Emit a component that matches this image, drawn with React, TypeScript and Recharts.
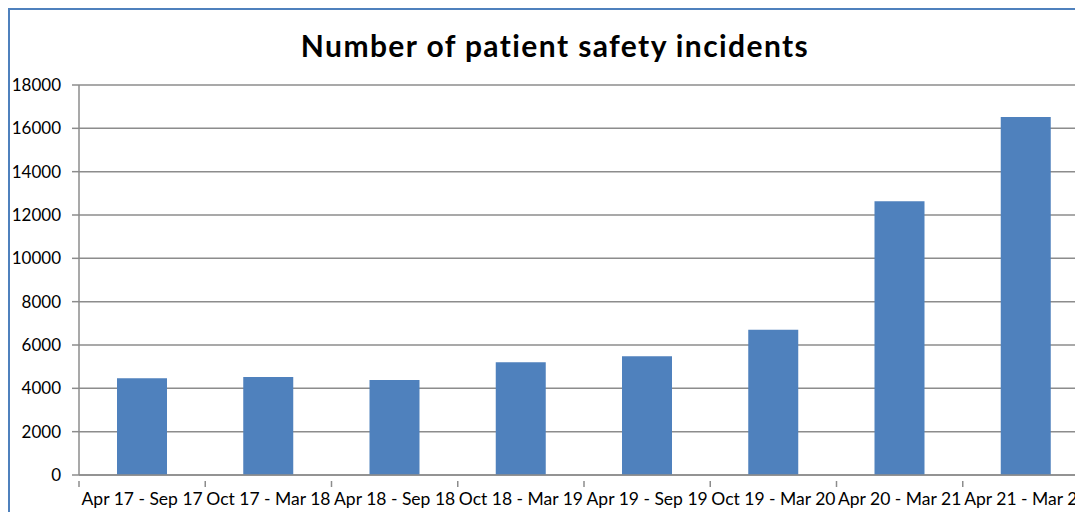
import { BarChart, Bar, XAxis, YAxis, CartesianGrid } from 'recharts'

const periods = [
  'Apr 17 - Sep 17',
  'Oct 17 - Mar 18',
  'Apr 18 - Sep 18',
  'Oct 18 - Mar 19',
  'Apr 19 - Sep 19',
  'Oct 19 - Mar 20',
  'Apr 20 - Mar 21',
  'Apr 21 - Mar 22',
]
const incidents = [4470, 4520, 4380, 5200, 5480, 6700, 12640, 16520]
const yTicks = [0, 2000, 4000, 6000, 8000, 10000, 12000, 14000, 16000, 18000]

const data = periods.map((p, i) => ({ period: p, value: incidents[i] }))

const FONT = 'Lato, "Open Sans", sans-serif'
const GRID = '#8c8c8c'
const BAR = '#4f81bd'

const CHART_W = 1102
const MARGIN = { top: 75, right: 23, left: 0, bottom: 7 }
const Y_W = 69

// label centred in the band, tick mark on the band's left edge (Excel style)
const CategoryTick = ({ x, y, payload }: any) => {
  const half = (CHART_W - MARGIN.left - MARGIN.right - Y_W) / periods.length / 2
  return (
    <g>
      <line x1={x - half} x2={x - half} y1={y - 2} y2={y + 4} stroke={GRID} strokeWidth={1.5} />
      <text x={x} y={y + 10} dy="0.71em" textAnchor="middle" fill="#000" fontSize={17.5} fontFamily={FONT}>
        {payload.value}
      </text>
    </g>
  )
}

export default function App() {
  return (
    <div
      style={{
        width: 1075,
        height: 504,
        overflow: 'hidden',
        borderTop: '2px solid #4f81bd',
        borderLeft: '2px solid #4f81bd',
        boxSizing: 'border-box',
        position: 'relative',
        background: '#fff',
      }}
    >
      <div
        style={{
          position: 'absolute',
          top: 17,
          left: 0,
          width: 1090,
          textAlign: 'center',
          fontFamily: FONT,
          fontWeight: 700,
          fontSize: 30,
          letterSpacing: 1.4,
          color: '#000',
        }}
      >
        Number of patient safety incidents
      </div>
      <BarChart width={CHART_W} height={502} data={data} margin={MARGIN}>
        <CartesianGrid vertical={false} stroke={GRID} strokeWidth={1.5} />
        <XAxis
          dataKey="period"
          interval={0}
          height={30}
          axisLine={{ stroke: GRID, strokeWidth: 1.5 }}
          tickLine={false}
          tick={<CategoryTick />}
        />
        <YAxis
          width={Y_W}
          domain={[0, 18000]}
          ticks={yTicks}
          interval={0}
          axisLine={{ stroke: GRID, strokeWidth: 1.5 }}
          tickLine={{ stroke: GRID, strokeWidth: 1.5 }}
          tickSize={7}
          tickMargin={11}
          tick={{ fill: '#000', fontSize: 17, fontFamily: FONT }}
        />
        <Bar dataKey="value" fill={BAR} barSize={50} isAnimationActive={false} />
      </BarChart>
    </div>
  )
}
